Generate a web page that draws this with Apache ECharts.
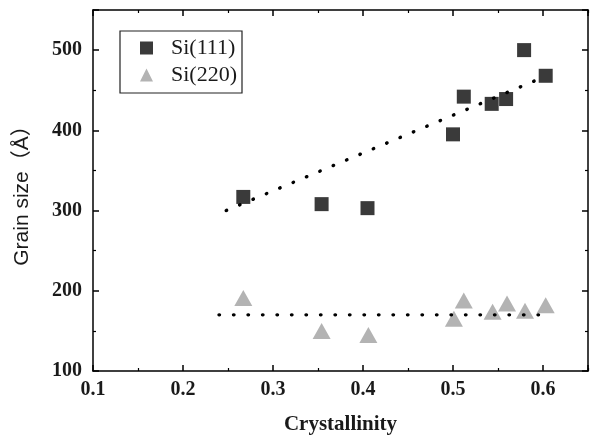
<!DOCTYPE html>
<html><head><meta charset="utf-8">
<script src="https://cdn.jsdelivr.net/npm/echarts@6/dist/echarts.min.js"></script>
<style>html,body{margin:0;padding:0;background:#fff}#c{width:593px;height:440px}</style>
</head><body><div id="c"></div>
<script>
const si111X = [0.267, 0.354, 0.405, 0.500, 0.512, 0.543, 0.559, 0.579, 0.603];
const si111Y = [317, 308, 303, 395, 442, 433, 439, 500, 468];
const si220X = [0.267, 0.354, 0.406, 0.501, 0.512, 0.544, 0.560, 0.580, 0.603];
const si220Y = [191, 150, 145, 165, 188, 174, 184, 175, 182];
const fit111X = [0.248, 0.600];
const fit111Y = [300, 466];
const fit220X = [0.240, 0.605];
const fit220Y = [170, 170];
const xTicks = [0.1, 0.2, 0.3, 0.4, 0.5, 0.6];
const yTicks = [100, 200, 300, 400, 500];

const pair = (xs, ys) => xs.map((x, i) => [x, ys[i]]);
const serif = '"Liberation Serif", "Times New Roman", serif';
const frameAxis = (extra) => Object.assign({
  axisLine: {show: true, onZero: false, lineStyle: {color: '#000', width: 1.5}},
  axisTick: {show: true, inside: true, length: 6, lineStyle: {color: '#000', width: 1.5}},
  minorTick: {show: true, splitNumber: 2, length: 3, lineStyle: {color: '#000', width: 1.2}},
  splitLine: {show: false}
}, extra);

const chart = echarts.init(document.getElementById('c'), null, {renderer: 'canvas'});
chart.setOption({
  animation: false,
  backgroundColor: '#fff',
  grid: {left: 93, right: 5, top: 10, bottom: 67, containLabel: false},
  legend: {
    left: 120, top: 31,
    orient: 'vertical',
    data: ['Si(111)', 'Si(220)'],
    itemWidth: 13, itemHeight: 13, itemGap: 5,
    padding: [6, 5, 7, 20],
    borderColor: '#222', borderWidth: 1.2,
    textStyle: {fontFamily: serif, fontSize: 22, color: '#1a1a1a', lineHeight: 22, padding: [0, 0, 0, 13]}
  },
  xAxis: [
    frameAxis({
      type: 'value', min: 0.1, max: 0.65, interval: 0.1, position: 'bottom',
      name: 'Crystallinity', nameLocation: 'middle', nameGap: 43,
      nameTextStyle: {fontFamily: serif, fontSize: 21, fontWeight: 'bold', color: '#1a1a1a'},
      axisLabel: {show: true, margin: 9, showMaxLabel: false, fontFamily: serif, fontSize: 20, fontWeight: 'bold', color: '#1a1a1a',
        formatter: v => xTicks.some(t => Math.abs(t - v) < 1e-6) ? v.toFixed(1) : ''}
    }),
    frameAxis({
      type: 'value', min: 0.1, max: 0.65, interval: 0.1, position: 'top',
      axisLabel: {show: false}
    })
  ],
  yAxis: [
    frameAxis({
      type: 'value', min: 100, max: 550, interval: 100, position: 'left',
      name: 'Grain size\uFF08\u00C5\uFF09', nameLocation: 'middle', nameGap: 60,
      nameTextStyle: {fontFamily: '"Liberation Sans", Arial, "Noto Sans CJK SC", sans-serif', fontSize: 21, color: '#1a1a1a'},
      axisLabel: {show: true, margin: 11, showMaxLabel: false, fontFamily: serif, fontSize: 20, fontWeight: 'bold', color: '#1a1a1a',
        formatter: v => yTicks.indexOf(v) >= 0 ? String(v) : ''}
    }),
    frameAxis({
      type: 'value', min: 100, max: 550, interval: 100, position: 'right',
      axisLabel: {show: false}
    })
  ],
  series: [
    {
      name: 'fit111', type: 'line', data: pair(fit111X, fit111Y), symbol: 'none', silent: true,
      lineStyle: {color: '#000', width: 3.4, type: [0.5, 14], cap: 'round'}, z: 3
    },
    {
      name: 'fit220', type: 'line', data: pair(fit220X, fit220Y), symbol: 'none', silent: true,
      lineStyle: {color: '#000', width: 3.4, type: [0.5, 14], cap: 'round'}, z: 3
    },
    {
      name: 'Si(111)', type: 'scatter', data: pair(si111X, si111Y), symbol: 'rect', symbolSize: 14,
      itemStyle: {color: '#3a3a3a', opacity: 1}, z: 2
    },
    {
      name: 'Si(220)', type: 'scatter', data: pair(si220X, si220Y), symbol: 'triangle', symbolSize: [18, 16],
      itemStyle: {color: '#b3b3b3', opacity: 1}, z: 2
    }
  ]
});
</script></body></html>
